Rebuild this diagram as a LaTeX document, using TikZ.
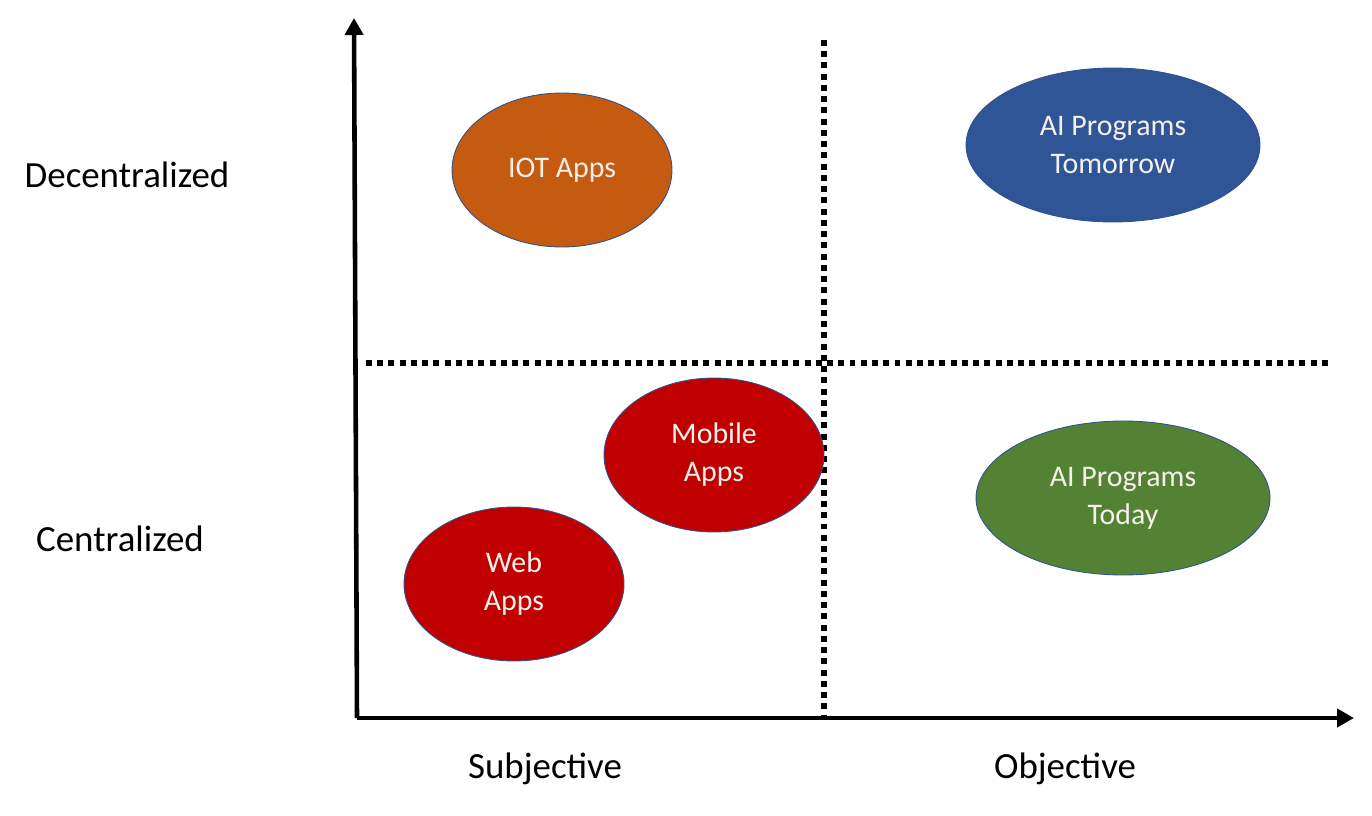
\documentclass[tikz,border=0pt]{standalone}
\usepackage{fontspec}
\setmainfont{Carlito}
\usepackage{tikz}
\usetikzlibrary{arrows.meta, shapes.geometric, positioning}
\definecolor{iotorange}{RGB}{197,90,17}
\definecolor{aiblue}{RGB}{47,85,151}
\definecolor{appred}{RGB}{192,0,0}
\definecolor{aigreen}{RGB}{84,130,53}
\definecolor{rimblue}{RGB}{47,82,143}
\definecolor{ivory}{RGB}{245,240,234}

\begin{document}
\begin{tikzpicture}[
    x=0.02cm, y=-0.02cm,
    blob/.style={ellipse, draw=rimblue, line width=0.5pt, text=ivory,
                 minimum width=4.4cm, minimum height=3.08cm,
                 font=\fontsize{17pt}{21.6pt}\selectfont, align=center, inner sep=0pt},
    wideblob/.style={blob, minimum width=5.88cm},
    axislabel/.style={font=\fontsize{21pt}{25pt}\selectfont, inner sep=0pt},
    axis/.style={-{Triangle[length=0.34cm, width=0.36cm]}, line width=2.6pt},
    divider/.style={line width=3.4pt, dash pattern=on 3.4pt off 3pt}
  ]
    \useasboundingbox (0,0) rectangle (1372,815);

    % Axes
    \coordinate (origin) at (357,718);
    \coordinate (ytip)   at (354,18);
    \coordinate (xtip)   at (1354,718);
    \draw[axis] (origin) -- (ytip);
    \draw[axis] (origin) -- (xtip);

    % Quadrant dividers
    \coordinate (vtop) at (824,40);
    \coordinate (vbot) at (824,718);
    \coordinate (hleft)  at (366,363);
    \coordinate (hright) at (1332,363);
    \draw[divider] (vtop) -- (vbot);
    \draw[divider] (hleft) -- (hright);

    % Axis labels
    \node[axislabel] (decentral) at (127,175) {Decentralized};
    \node[axislabel] (central)   at (120,539) {Centralized};
    \node[axislabel] (subj)      at (545,769) {Subjective};
    \node[axislabel] (obj)       at (1065,769) {Objective};

    % Applications
    \node[blob, fill=iotorange]    (iot)      at (562,170)  {IOT Apps};
    \node[wideblob, fill=aiblue]   (aitomor)  at (1113,145) {AI Programs\\Tomorrow};
    \node[blob, fill=appred]       (mobile)   at (714,455)  {Mobile\\Apps};
    \node[blob, fill=appred]       (web)      at (514,584)  {Web\\Apps};
    \node[wideblob, fill=aigreen]  (aitoday)  at (1123,498) {AI Programs\\Today};
  \end{tikzpicture}
\end{document}
